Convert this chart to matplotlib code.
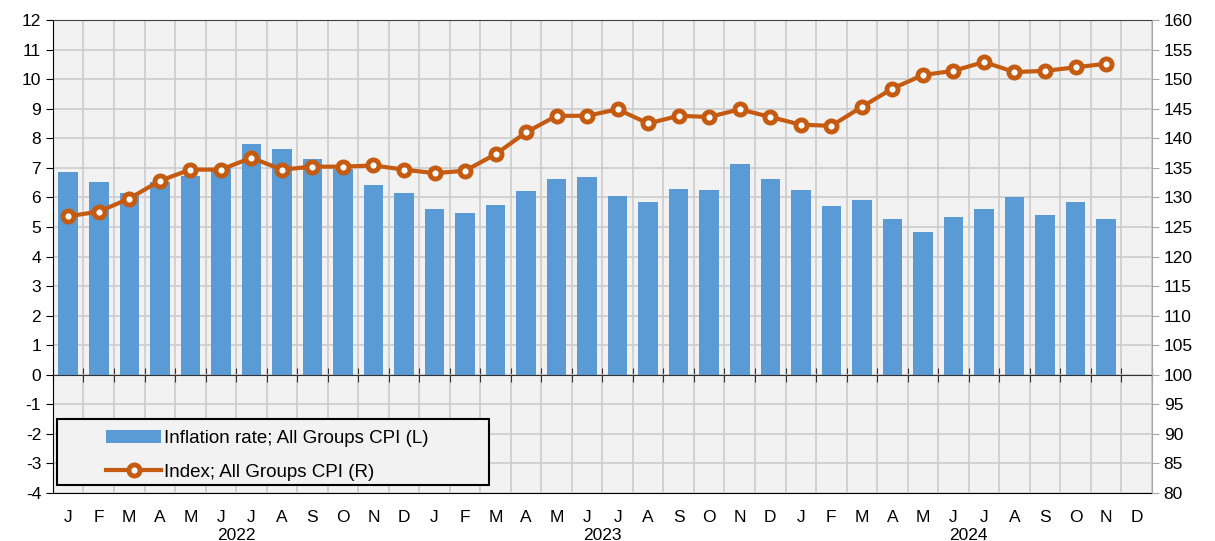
import numpy as np
import matplotlib
matplotlib.use('Agg')
from matplotlib import pyplot as plt
from matplotlib.patches import Rectangle, Patch
from matplotlib.lines import Line2D

plt.rcParams['font.family'] = ['Liberation Sans', 'DejaVu Sans']
plt.rcParams['axes.unicode_minus'] = False

# dados
months = ['J', 'F', 'M', 'A', 'M', 'J', 'J', 'A', 'S', 'O', 'N', 'D'] * 3
years = ['2022', '2023', '2024']

inflation = [6.85, 6.51, 6.14, 6.51, 6.72, 7.00, 7.80, 7.64, 7.29, 6.95, 6.43, 6.14,
             5.61, 5.48, 5.73, 6.20, 6.63, 6.68, 6.04, 5.86, 6.29, 6.25, 7.12, 6.63,
             6.25, 5.70, 5.91, 5.26, 4.83, 5.35, 5.61, 6.00, 5.40, 5.86, 5.26]
cpi_index = [126.8, 127.6, 129.8, 132.8, 134.7, 134.7, 136.7, 134.7, 135.2, 135.2, 135.4, 134.7,
             134.1, 134.5, 137.3, 141.0, 143.8, 143.8, 144.9, 142.5, 143.8, 143.6, 144.9, 143.6,
             142.3, 142.1, 145.3, 148.4, 150.7, 151.4, 152.9, 151.2, 151.4, 152.0, 152.6]

bar_color = '#5b9bd5'
line_color = '#c55a11'
fs = 12.5

fig = plt.figure(figsize=(12.15, 5.41), dpi=100)
ax = fig.add_axes([0.0436, 0.0887, 0.9044, 0.8743])
ax.set_facecolor('#f2f2f2')

x = np.arange(len(inflation))
ax.bar(x, inflation, width=0.64, color=bar_color, zorder=2)

ax.set_xlim(-0.5, 35.5)
ax.set_ylim(-4, 12)
ax.set_yticks(range(-4, 13))
ax.set_xticks(np.arange(-0.5, 36, 1))
ax.tick_params(axis='x', labelbottom=False, length=10, direction='inout', color='#333333')
ax.tick_params(axis='y', labelsize=fs, length=5)
ax.spines['bottom'].set_position(('data', 0))
ax.spines['bottom'].set_color('#333333')
ax.spines['top'].set_color('#404040')
ax.spines['right'].set_visible(False)
ax.grid(True, color='#cccccc', lw=1.2)
ax.set_axisbelow(True)

# eixo de baixo com os meses
sec = ax.secondary_xaxis('bottom')
sec.set_xticks(x.tolist() + [35], months)
sec.tick_params(length=0, pad=12, labelsize=fs)
sec.spines['bottom'].set_color('black')

for i, yr in enumerate(years):
    ax.text(12 * i + 5.5, -0.089, yr, transform=ax.get_xaxis_transform(),
            ha='center', va='center', fontsize=fs)

ax2 = ax.twinx()
ax2.plot(x, cpi_index, color=line_color, lw=3, marker='o', ms=8,
         mfc='white', mec=line_color, mew=3.5, zorder=3)
ax2.set_ylim(80, 160)
ax2.set_yticks(range(80, 161, 5))
ax2.tick_params(axis='y', labelsize=fs, length=5, color='#a6a6a6')
ax2.spines['right'].set_color('#a6a6a6')
ax2.spines['left'].set_visible(False)
ax2.spines['top'].set_visible(False)
ax2.spines['bottom'].set_visible(False)

# caixa da legenda
ax2.add_patch(Rectangle((0.0036, 0.017), 0.3934, 0.139, transform=ax2.transAxes,
                        facecolor='#f2f2f2', edgecolor='black', lw=1.5, zorder=5))
handles = [Patch(facecolor=bar_color),
           Line2D([], [], color=line_color, lw=3, marker='o', ms=8,
                  mfc='white', mec=line_color, mew=3.5)]
labels = ['Inflation rate; All Groups CPI (L)', 'Index; All Groups CPI (R)']
leg = ax2.legend(handles, labels, loc='center', bbox_to_anchor=(0.195, 0.080),
                 frameon=False, fontsize=13.5, handlelength=2.9, handletextpad=0.15,
                 labelspacing=0.9)
leg.set_zorder(6)

fig.savefig('out.png', dpi=100)
